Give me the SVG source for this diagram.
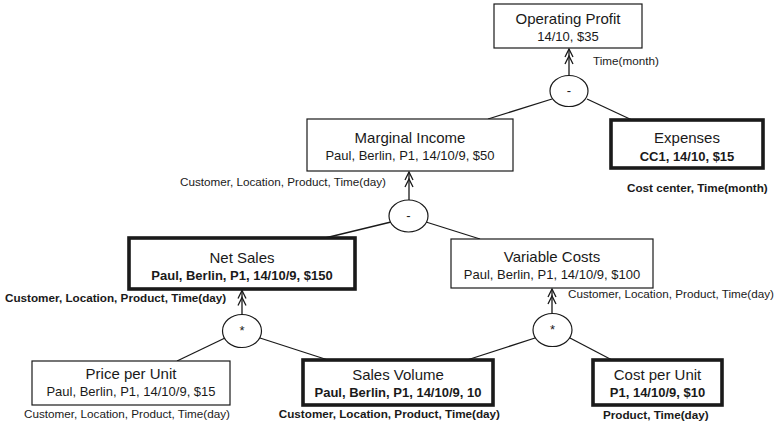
<svg xmlns="http://www.w3.org/2000/svg" width="781" height="427" viewBox="0 0 781 427">
<style>
text{font-family:"Liberation Sans",Arial,Helvetica,sans-serif;fill:#1a1a1a}
.t{font-size:15px;text-anchor:middle}
.s{font-size:13px;text-anchor:middle}
.b{font-weight:bold}
.l{font-size:11.7px}
.box{fill:#fff;stroke:#1a1a1a;stroke-width:1.2}
.thick{stroke-width:3.6}
.op{fill:#fff;stroke:#1a1a1a;stroke-width:1.2}
.ln{stroke:#1a1a1a;stroke-width:1.3;fill:none}
.sym{font-size:13px;text-anchor:middle}
</style>
<defs>
<marker id="dbl" viewBox="0 0 17 10" refX="16" refY="5" markerWidth="17" markerHeight="10" markerUnits="userSpaceOnUse" orient="auto">
<path d="M8 1 L16 5 L8 9 M1 1 L9 5 L1 9" fill="none" stroke="#1a1a1a" stroke-width="1.3"/>
</marker>
</defs>
<g id="connectors">
<line class="ln" x1="552" y1="99" x2="488" y2="119"/>
<line class="ln" x1="587" y1="99" x2="632" y2="120"/>
<line class="ln" x1="391" y1="222" x2="325" y2="238"/>
<line class="ln" x1="426" y1="222" x2="480" y2="239"/>
<line class="ln" x1="225" y1="338" x2="177" y2="361"/>
<line class="ln" x1="260" y1="338" x2="328" y2="360"/>
<line class="ln" x1="535" y1="338" x2="467" y2="360"/>
<line class="ln" x1="570" y1="338" x2="612" y2="360"/>
<line class="ln" x1="569" y1="75.5" x2="569" y2="49" marker-end="url(#dbl)"/>
<line class="ln" x1="409" y1="200" x2="409" y2="172" marker-end="url(#dbl)"/>
<line class="ln" x1="242" y1="314.5" x2="242" y2="290.5" marker-end="url(#dbl)"/>
<line class="ln" x1="552" y1="313.5" x2="552" y2="289" marker-end="url(#dbl)"/>
</g>
<g id="op-top">
<ellipse class="op" cx="569" cy="91" rx="19" ry="15.5"/>
<text class="sym" x="569" y="95">-</text>
</g>
<g id="op-mid">
<ellipse class="op" cx="408.5" cy="216" rx="19.5" ry="16"/>
<text class="sym" x="408.5" y="220">-</text>
</g>
<g id="op-left">
<ellipse class="op" cx="242" cy="331" rx="19.5" ry="16.5"/>
<text class="sym" x="242" y="335">*</text>
</g>
<g id="op-right">
<ellipse class="op" cx="552.5" cy="330" rx="19.5" ry="16.5"/>
<text class="sym" x="552.5" y="334">*</text>
</g>
<g id="operating-profit">
<rect class="box" x="494" y="4" width="148" height="44"/>
<text class="t" x="568" y="24">Operating Profit</text>
<text class="s" x="568" y="41">14/10, $35</text>
<text class="l" x="593" y="65">Time(month)</text>
</g>
<g id="marginal-income">
<rect class="box" x="307" y="119" width="206" height="52"/>
<text class="t" x="410" y="143">Marginal Income</text>
<text class="s" x="410" y="160">Paul, Berlin, P1, 14/10/9, $50</text>
<text class="l" x="180" y="186">Customer, Location, Product, Time(day)</text>
</g>
<g id="expenses">
<rect class="box thick" x="611" y="120" width="152" height="48"/>
<text class="t" x="687" y="143">Expenses</text>
<text class="s b" x="687" y="161">CC1, 14/10, $15</text>
<text class="l b" x="627" y="192">Cost center, Time(month)</text>
</g>
<g id="net-sales">
<rect class="box thick" x="129" y="238" width="226" height="51"/>
<text class="t" x="242" y="263">Net Sales</text>
<text class="s b" x="242" y="280">Paul, Berlin, P1, 14/10/9, $150</text>
<text class="l b" x="5" y="302">Customer, Location, Product, Time(day)</text>
</g>
<g id="variable-costs">
<rect class="box" x="451" y="239" width="202" height="49"/>
<text class="t" x="552" y="262">Variable Costs</text>
<text class="s" x="552" y="279">Paul, Berlin, P1, 14/10/9, $100</text>
<text class="l" x="568" y="298">Customer, Location, Product, Time(day)</text>
</g>
<g id="price-per-unit">
<rect class="box" x="32" y="361" width="198" height="44"/>
<text class="t" x="131" y="379">Price per Unit</text>
<text class="s" x="131" y="396">Paul, Berlin, P1, 14/10/9, $15</text>
<text class="l" x="127" y="418" text-anchor="middle">Customer, Location, Product, Time(day)</text>
</g>
<g id="sales-volume">
<rect class="box thick" x="303" y="360" width="190" height="45"/>
<text class="t" x="398" y="380">Sales Volume</text>
<text class="s b" x="398" y="397">Paul, Berlin, P1, 14/10/9, 10</text>
<text class="l b" x="500" y="418" text-anchor="end">Customer, Location, Product, Time(day)</text>
</g>
<g id="cost-per-unit">
<rect class="box thick" x="593" y="360" width="129" height="45"/>
<text class="t" x="657.5" y="380">Cost per Unit</text>
<text class="s b" x="657.5" y="397">P1, 14/10/9, $10</text>
<text class="l b" x="603" y="419">Product, Time(day)</text>
</g>
</svg>
